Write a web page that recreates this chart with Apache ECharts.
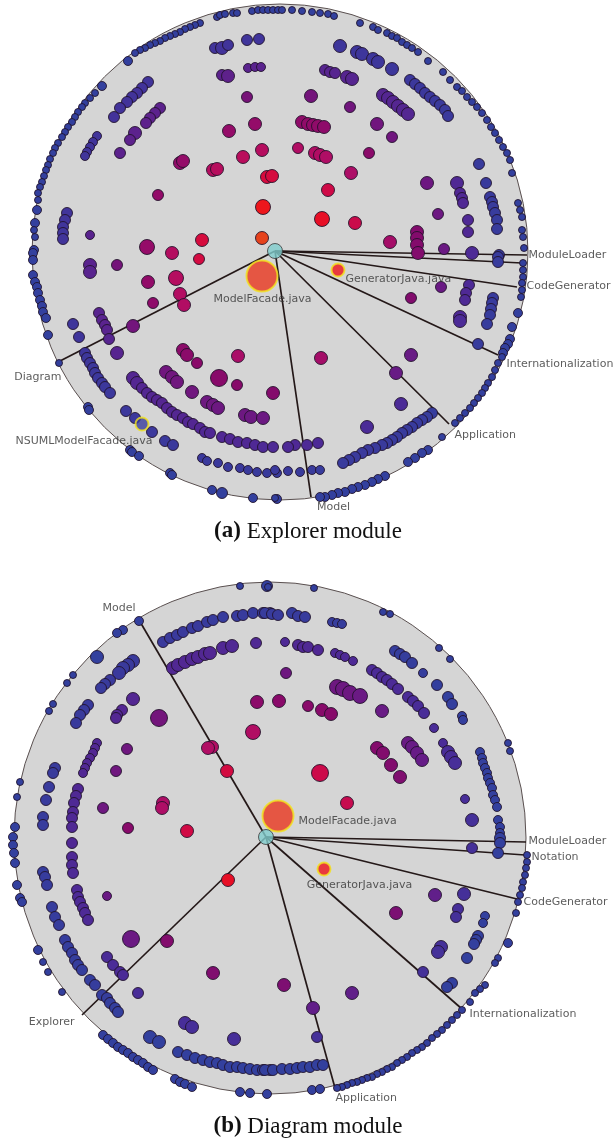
<!DOCTYPE html>
<html>
<head>
<meta charset="utf-8">
<script src="https://cdn.jsdelivr.net/npm/echarts@6/dist/echarts.min.js"></script>
<style>
  html, body { margin: 0; padding: 0; background: #ffffff; }
  #chart { width: 616px; height: 1147px; }
</style>
</head>
<body>
<div id="chart"></div>
<script>
// Radial dependency layouts. Node coordinates are layout units measured from the
// centre of each disk (y grows downward); the third value is the node weight.

// ---------- (a) Explorer module ----------
const explorerRadius = 248;
const explorerHub = [-5, -1];
const explorerNodes = [
  // outer ring, top and upper left
  [-63,-235,1],[-60,-237,1],[-55,-238,1],[-47,-239,1],[-43,-239,1],[-28,-241,1],[-22,-242,1],[-17,-242,1],[-12,-242,1],[-7,-242,1],[-2,-242,1],
  [-80,-229,1],[-85,-227,1],[-90,-225,1],[-95,-223,1],[-100,-220,1],[-105,-218,1],[-110,-216,1],[-115,-214,1],[-120,-211,1],[-125,-209,1],[-130,-207,1],[-135,-204,1],[-140,-202,1],[-145,-199,1],[-152,-191,2],
  [-178,-166,2],[-185,-159,1],[-190,-154,1],[-195,-149,1],[-198,-145,1],[-202,-140,1],[-205,-135,1],[-208,-130,1],[-212,-125,1],[-215,-120,1],[-218,-115,1],[-222,-109,1],[-225,-104,1],[-227,-99,1],[-230,-93,1],[-232,-87,1],[-234,-82,1],[-236,-76,1],[-238,-70,1],[-240,-65,1],[-242,-59,1],[-242,-52,1],[-243,-42,2],[-245,-29,2],[-246,-22,1],[-245,-15,1],[-246,-2,2],[-247,5,1],
  // upper left interior
  [-65,-204,3],[-58,-204,4],[-52,-207,3],[-33,-212,3],[-21,-213,3],
  [-58,-177,3],[-52,-176,4],[-32,-184,2],[-25,-185,2],[-19,-185,2],
  [-33,-155,3],[-25,-128,4],[-51,-121,4],[-18,-102,4],[-37,-95,4],
  [-13,-75,4],[-8,-76,4],[-17,-45,5],[-18,-14,4],
  [-67,-82,4],[-63,-83,4],[-100,-89,4],[-97,-91,4],[-122,-57,3],
  [-78,-12,4],[-108,1,4],[-133,-5,5],[-190,-17,2],
  [-213,-39,3],[-215,-32,3],[-217,-25,3],[-217,-19,3],[-217,-13,3],
  [-183,-116,2],[-187,-110,2],[-190,-105,2],[-193,-100,2],[-195,-96,2],
  [-160,-99,3],[-145,-119,4],[-150,-112,3],
  [-132,-170,3],[-138,-164,3],[-143,-159,3],[-148,-155,3],[-153,-150,3],[-160,-144,3],[-166,-135,3],
  [-120,-144,3],[-125,-139,3],[-130,-134,3],[-134,-129,3],
  // outer ring, top right
  [2,-242,1],[12,-242,1],[22,-241,1],[32,-240,1],[40,-239,1],[48,-238,1],[54,-236,1],[80,-229,1],[93,-225,1],[98,-222,1],
  [107,-219,1],[112,-216,1],[117,-214,1],[122,-210,1],[127,-207,1],[132,-204,1],[138,-200,1],[148,-191,1],[163,-180,1],[170,-172,1],
  [177,-165,1],[182,-161,1],[187,-155,1],[192,-150,1],[197,-145,1],[202,-139,1],[207,-132,1],[211,-125,1],[215,-119,1],[219,-112,1],
  [223,-105,1],[227,-99,1],[230,-92,1],[232,-79,1],[238,-49,1],[240,-42,1],[242,-35,1],[242,-22,1],[243,-15,1],[244,-4,1],
  // upper right interior
  [60,-206,4],[77,-200,4],[82,-198,4],[93,-193,4],[98,-190,4],[112,-183,4],
  [45,-182,3],[50,-180,3],[55,-179,3],[67,-175,4],[72,-173,4],
  [130,-172,3],[135,-168,3],[140,-164,3],[145,-159,3],[150,-155,3],[155,-151,3],[160,-147,3],[165,-142,3],[168,-136,3],
  [103,-157,4],[108,-154,4],[113,-150,4],[118,-146,4],[123,-142,4],[128,-138,4],
  [31,-156,4],[70,-145,3],[97,-128,4],[112,-115,3],
  [22,-130,4],[28,-128,4],[33,-127,4],[38,-126,4],[44,-125,4],
  [18,-104,3],[35,-99,4],[40,-97,4],[46,-95,4],[89,-99,3],
  [71,-79,4],[48,-62,4],[42,-33,5],[75,-29,4],[110,-10,4],
  [137,-20,4],[137,-14,4],[137,-7,4],[138,1,4],
  [147,-69,4],[158,-38,3],[164,-3,3],
  [177,-69,4],[180,-59,3],[182,-54,3],[183,-49,3],[188,-32,3],[188,-20,3],[192,1,4],
  [199,-88,3],[206,-69,3],[210,-55,3],[212,-50,3],[213,-45,3],[215,-39,3],[217,-32,3],[217,-23,3],[219,3,3],
  // lower left
  [-247,1,2],[-247,8,2],[-247,23,2],[-245,30,2],[-243,35,2],[-242,41,2],[-240,48,2],[-238,54,2],[-237,60,2],[-234,66,2],[-232,83,2],[-221,111,1],
  [-192,155,2],[-191,158,2],[-150,198,2],[-148,200,2],[-141,204,2],[-110,221,2],[-108,223,2],[-68,238,2],[-58,241,3],[-27,246,2],[-3,247,2],
  [-190,13,4],[-190,20,4],[-163,13,3],[-132,30,4],[-104,26,5],[-81,7,3],
  [-100,42,4],[-96,53,4],[-127,51,3],[-147,74,4],[-207,72,3],[-201,85,3],
  [-181,61,3],[-178,68,3],[-175,73,3],[-173,78,3],[-171,87,3],[-163,101,4],
  [-195,101,3],[-193,106,3],[-190,111,3],[-187,116,3],[-185,121,3],[-182,126,3],[-178,131,3],[-175,135,3],[-170,141,3],
  [-147,126,4],[-143,131,4],[-138,136,3],[-133,141,3],[-128,145,3],[-123,148,3],[-118,151,3],[-113,156,3],[-108,160,3],[-103,163,3],
  [-97,166,3],[-92,170,3],[-87,172,3],[-80,176,3],[-75,180,3],[-70,181,3],
  [-154,159,3],[-145,166,3],[-128,180,3],[-115,189,3],[-107,193,3],
  [-114,120,4],[-108,125,4],[-103,130,4],[-97,98,4],[-93,103,4],[-83,111,3],[-88,140,4],
  [-73,150,4],[-67,153,4],[-62,156,4],[-61,126,6],[-42,104,4],[-43,133,3],
  [-35,163,4],[-29,165,4],[-17,166,4],[-7,141,4],
  [-58,185,3],[-50,187,3],[-42,190,3],[-33,191,3],[-25,193,3],[-17,195,3],[-7,195,3],
  [-78,206,2],[-73,209,2],[-62,211,2],[-52,215,2],[-40,216,2],[-32,218,2],[-23,220,2],[-13,221,2],[-3,221,2],
  // lower right
  [218,5,3],[218,10,3],[243,11,1],[243,18,1],[243,25,1],[242,31,1],[242,38,1],[241,45,1],
  [161,35,3],[189,33,3],[186,41,3],[185,48,3],[131,46,3],[180,65,4],[180,69,4],
  [213,46,3],[212,51,3],[211,57,3],[210,63,3],[207,72,3],[238,61,2],[232,75,2],
  [230,87,2],[228,92,2],[225,96,2],[223,101,2],[198,92,3],
  [41,106,4],[131,103,4],[116,121,4],[121,152,4],[87,175,4],[162,185,1],
  [222,105,1],[218,111,1],[215,118,1],[212,125,1],[208,131,1],[205,136,1],[202,141,1],[198,146,1],[194,151,1],[190,156,1],[185,161,1],[180,166,1],[175,171,1],
  [152,161,3],[147,165,3],[142,168,3],[137,171,3],[132,175,3],[127,178,3],[122,181,3],[117,185,3],[112,188,3],[107,191,3],
  [102,193,3],[95,196,3],[88,198,3],[82,201,3],[75,205,3],[69,208,3],[63,211,3],
  [148,198,2],[142,201,2],[135,206,2],[128,210,2],
  [105,224,2],[98,227,2],[92,230,2],[85,233,2],[78,235,2],[72,237,2],[65,240,2],[58,241,2],[52,243,2],[45,245,2],[40,245,2],
  [38,191,3],[27,193,3],[15,193,3],[8,195,3],
  [-5,218,2],[8,219,2],[20,220,2],[32,218,2],[40,218,2],[-5,246,1]
];
const explorerSectors = ['ModuleLoader', '', 'CodeGenerator', 'Internationalization', 'Application', 'Model', 'Diagram'];
const explorerSectorEnds = [[247,3],[242,11],[237,35],[218,103],[169,172],[31,245],[-220,109]];
const explorerMarked = ['ModelFacade.java', 'GeneratorJava.java', 'NSUMLModelFacade.java'];
const explorerMarkedNodes = [[-18,24,13],[58,18,4],[-138,172,4]];

// ---------- (b) Diagram module ----------
const diagramRadius = 256;
const diagramHub = [-4, -1];
const diagramNodes = [
  // upper left
  [-30,-252,1],[-3,-252,3],[-131,-217,2],[-147,-208,2],[-153,-205,2],[-173,-181,4],
  [-197,-163,1],[-203,-155,1],[-217,-134,1],[-221,-127,1],[-250,-56,1],[-253,-41,1],[-255,-11,2],
  [-107,-196,3],[-100,-200,3],[-93,-203,3],[-87,-206,3],[-78,-210,3],[-72,-212,3],[-63,-216,3],[-57,-218,3],
  [-47,-221,3],[-33,-222,3],[-27,-223,3],[-17,-225,3],[-7,-225,3],[0,-225,3],[-14,-195,3],
  [-97,-170,4],[-92,-173,4],[-85,-176,4],[-78,-179,4],[-72,-181,4],[-65,-184,4],[-60,-185,4],[-47,-190,4],[-38,-192,4],
  [-137,-177,4],[-142,-173,4],[-147,-170,4],[-151,-165,4],[-160,-158,3],[-165,-154,3],[-169,-150,3],
  [-182,-133,3],[-186,-128,3],[-190,-123,3],[-194,-115,3],[-137,-139,4],[-148,-128,3],[-153,-123,3],[-154,-120,3],
  [-111,-120,6],
  [-173,-95,2],[-175,-90,2],[-177,-85,2],[-180,-80,2],[-183,-75,2],[-185,-70,2],[-187,-65,2],
  [-215,-70,3],[-217,-65,3],[-221,-51,3],[-224,-38,3],[-227,-21,3],[-227,-13,3],
  [-192,-49,3],[-194,-42,3],[-196,-35,3],[-197,-26,3],[-198,-20,3],[-198,-11,3],
  [-143,-89,3],[-154,-67,3],[-167,-30,3],[-107,-35,4],[-108,-30,4],[-142,-10,3],[-83,-7,4],
  [-13,-136,4],[-17,-106,5],[-58,-91,4],[-62,-90,4],[-43,-67,4],
  // upper right
  [-2,-251,1],[44,-250,1],[113,-226,1],[120,-224,1],[169,-190,1],[180,-179,1],[238,-95,1],[240,-87,1],
  [-5,-225,3],[2,-224,3],[8,-223,3],[22,-225,3],[28,-222,3],[35,-221,3],
  [62,-216,2],[67,-215,2],[72,-214,2],[15,-196,2],[28,-193,3],[33,-191,3],[38,-191,3],[48,-188,3],
  [65,-185,2],[70,-183,2],[75,-181,2],[83,-177,2],
  [125,-187,3],[130,-184,3],[135,-181,3],[142,-175,3],[153,-165,2],[167,-153,3],
  [102,-168,3],[107,-165,3],[112,-161,3],[117,-158,3],[122,-154,3],[128,-149,3],
  [178,-141,3],[182,-134,3],[192,-122,2],[193,-118,2],[164,-110,2],
  [138,-141,3],[143,-137,3],[148,-132,3],[154,-125,3],
  [16,-165,3],[67,-151,5],[73,-149,5],[80,-145,5],[90,-142,5],[112,-127,4],
  [9,-137,4],[38,-132,3],[52,-128,4],[61,-124,4],
  [107,-90,4],[113,-85,4],[121,-73,4],[130,-61,4],
  [138,-95,4],[142,-91,4],[147,-85,4],[152,-78,4],[173,-95,2],[178,-86,4],[181,-81,4],[185,-75,4],
  [210,-86,2],[212,-80,2],[213,-75,2],[215,-70,2],[217,-65,2],[218,-60,2],[220,-55,2],[222,-50,2],[223,-43,2],[225,-38,2],[227,-31,2],
  [195,-39,2],[202,-18,4],[228,-18,2],[230,-11,2],[230,-5,2],
  [50,-65,6],[77,-35,4],
  // lower left
  [-42,42,4],
  [-257,-1,2],[-257,7,2],[-256,15,2],[-255,25,2],[-253,47,2],[-250,60,2],[-248,64,2],
  [-232,112,2],[-227,124,1],[-222,134,1],[-208,154,1],
  [-167,197,2],[-162,201,2],[-157,205,2],[-152,209,2],[-147,212,2],[-142,215,2],[-137,219,2],[-132,222,2],[-127,225,2],[-122,229,2],[-117,232,2],
  [-95,241,2],[-90,244,2],[-85,246,2],[-78,249,2],[-30,254,2],[-20,255,2],[-3,256,2],
  [-227,34,3],[-225,39,3],[-223,47,3],[-198,5,3],[-198,19,3],[-198,27,3],[-197,35,3],
  [-193,52,3],[-192,59,3],[-190,64,3],[-187,70,3],[-185,75,3],[-182,82,3],
  [-218,69,3],[-215,79,3],[-211,87,3],
  [-205,102,3],[-202,109,3],[-198,115,3],[-195,122,3],[-192,127,3],[-188,132,3],[-180,142,3],[-175,147,3],
  [-168,157,3],[-163,160,3],[-160,165,3],[-155,170,3],[-152,174,3],
  [-163,119,3],[-157,127,3],[-150,134,3],[-147,137,3],
  [-163,58,2],[-139,101,6],[-103,103,4],[-132,155,3],[-57,135,4],
  [-85,185,4],[-78,189,4],[-120,199,4],[-111,204,4],[-36,201,4],
  [-92,214,3],[-83,217,3],[-75,220,3],[-67,222,3],[-60,224,3],[-53,225,3],[-47,227,3],[-40,229,3],[-33,229,3],
  [-27,230,3],[-20,231,3],[-13,232,3],[-7,232,3],[0,232,3],
  // lower right
  [230,0,3],[230,5,3],[228,15,3],[202,10,3],
  [257,17,1],[257,24,1],[256,30,1],[255,37,1],[253,44,1],[252,50,1],[250,57,1],[248,64,1],[246,75,1],
  [238,105,2],[228,120,1],[225,125,1],[215,147,1],[210,151,1],[205,155,1],[200,164,1],
  [192,172,1],[187,177,1],[182,182,1],[177,187,1],[172,192,1],[167,196,1],[162,200,1],[157,205,1],[152,209,1],
  [147,212,1],[142,215,1],[137,219,1],[132,222,1],[127,225,1],[122,229,1],[117,231,1],[112,234,1],[107,236,1],
  [102,239,1],[97,240,1],[92,242,1],[87,244,1],[82,245,1],[77,247,1],[72,249,1],[67,250,1],
  [42,252,2],[50,251,2],
  [194,56,4],[165,57,4],[126,75,4],[188,71,3],[186,79,3],[215,78,2],[213,85,2],
  [208,98,3],[206,102,3],[204,106,3],[171,109,4],[168,114,4],[197,120,3],[153,134,3],
  [182,145,3],[177,149,3],[14,147,4],[82,155,4],[43,170,4],[47,199,3],
  [-5,232,3],[3,232,3],[12,231,3],[20,231,3],[27,230,3],[33,229,3],[40,229,3],[47,227,3],[53,227,3]
];
const diagramSectors = ['Model', 'ModuleLoader', 'Notation', 'CodeGenerator', 'Internationalization', 'Application', 'Explorer'];
const diagramSectorEnds = [[-131,-218],[256,4],[255,17],[247,61],[192,171],[65,250],[-188,177]];
const diagramMarked = ['ModelFacade.java', 'GeneratorJava.java'];
const diagramMarkedNodes = [[8,-22,13],[54,31,4]];

// ---------- styling ----------
const markedFill = {
  'ModelFacade.java': '#e8361e',
  'GeneratorJava.java': '#ee1118',
  'NSUMLModelFacade.java': '#3a3d9e'
};
// label offsets (pixels) from the anchoring point
const explorerLabelPlacement = {
  'ModuleLoader': [2, 1, 'left'],
  'CodeGenerator': [10, 0, 'left'],
  'Internationalization': [9, 10, 'left'],
  'Application': [6, 12, 'left'],
  'Model': [23, 11, 'center'],
  'Diagram': [2, 17, 'right'],
  'ModelFacade.java': [1, 24, 'center'],
  'GeneratorJava.java': [8, 10, 'left'],
  'NSUMLModelFacade.java': [11, 18, 'right']
};
const diagramLabelPlacement = {
  'Model': [-3, -11, 'right'],
  'ModuleLoader': [3, 0, 'left'],
  'Notation': [7, 3, 'left'],
  'CodeGenerator': [7, 4, 'left'],
  'Internationalization': [8, 6, 'left'],
  'Application': [1, 11, 'left'],
  'Explorer': [-7, 8, 'right'],
  'ModelFacade.java': [21, 6, 'left'],
  'GeneratorJava.java': [36, 17, 'center']
};

const nodeSize = v => 5 + 2 * v[2];
const labelFont = { fontFamily: 'DejaVu Sans', fontSize: 11, color: '#333333' };

function panelSeries(idx, radius, hub, nodes, sectors, ends, marked, markedNodes, placement) {
  const axes = { xAxisIndex: idx, yAxisIndex: idx };
  const labelItem = (name, pos) => {
    const p = placement[name];
    return {
      name: name,
      value: pos,
      label: {
        show: true,
        position: [p[0], p[1]],
        align: p[2],
        verticalAlign: 'middle',
        formatter: name
      }
    };
  };
  const labelData = [];
  sectors.forEach((s, i) => { if (s) labelData.push(labelItem(s, ends[i])); });
  marked.forEach((m, i) => labelData.push(labelItem(m, markedNodes[i].slice(0, 2))));

  return [
    {
      type: 'custom', ...axes, silent: true, z: 1,
      data: [[0, 0, radius]],
      renderItem: function (params, api) {
        const c = api.coord([api.value(0), api.value(1)]);
        const r = api.size([api.value(2), 0])[0];
        return {
          type: 'circle',
          shape: { cx: c[0], cy: c[1], r: r },
          style: { fill: '#d5d5d5', stroke: '#5a5050', lineWidth: 1 }
        };
      }
    },
    {
      type: 'lines', coordinateSystem: 'cartesian2d', ...axes, silent: true, z: 2,
      lineStyle: { color: '#241818', width: 1.7, opacity: 1 },
      data: ends.map(e => ({ coords: [hub, e] }))
    },
    {
      id: 'nodes' + idx,
      type: 'scatter', ...axes, silent: true, z: 3, clip: false,
      symbolSize: nodeSize,
      itemStyle: { borderColor: 'rgba(30,16,40,0.85)', borderWidth: 1, opacity: 1 },
      data: nodes.map(n => [n[0], n[1], n[2], Math.hypot(n[0] - hub[0], n[1] - hub[1])])
    },
    {
      type: 'scatter', ...axes, silent: true, z: 4, clip: false,
      symbolSize: nodeSize,
      data: markedNodes.map((n, i) => ({
        value: n,
        itemStyle: { color: markedFill[marked[i]], borderColor: '#f2e41c', borderWidth: 2 }
      }))
    },
    {
      type: 'scatter', ...axes, silent: true, z: 5, clip: false,
      symbolSize: 15,
      itemStyle: { color: '#7fcdcd', borderColor: '#3a3a3a', borderWidth: 1 },
      data: [hub]
    },
    {
      type: 'scatter', ...axes, silent: true, z: 6, clip: false,
      symbolSize: 1,
      itemStyle: { color: 'rgba(0,0,0,0)' },
      label: labelFont,
      data: labelData
    }
  ];
}

const seriesA = panelSeries(0, explorerRadius, explorerHub, explorerNodes, explorerSectors,
  explorerSectorEnds, explorerMarked, explorerMarkedNodes, explorerLabelPlacement);
const seriesB = panelSeries(1, diagramRadius, diagramHub, diagramNodes, diagramSectors,
  diagramSectorEnds, diagramMarked, diagramMarkedNodes, diagramLabelPlacement);

const captionStyle = {
  fontFamily: 'Liberation Serif', fontSize: 23, fontWeight: 'normal', color: '#111111',
  rich: { b: { fontFamily: 'Liberation Serif', fontSize: 23, fontWeight: 'bold', color: '#111111' } }
};

const chart = echarts.init(document.getElementById('chart'), null, { renderer: 'canvas' });
chart.setOption({
  animation: false,
  backgroundColor: '#ffffff',
  title: [
    { text: '{b|(a)} Explorer module', left: 'center', top: 520, padding: 0, textStyle: captionStyle },
    { text: '{b|(b)} Diagram module', left: 'center', top: 1115, padding: 0, textStyle: captionStyle }
  ],
  grid: [
    { left: 280 - explorerRadius, top: 252 - explorerRadius, width: 2 * explorerRadius, height: 2 * explorerRadius },
    { left: 270 - diagramRadius, top: 838 - diagramRadius, width: 2 * diagramRadius, height: 2 * diagramRadius }
  ],
  xAxis: [
    { type: 'value', gridIndex: 0, min: -explorerRadius, max: explorerRadius, show: false },
    { type: 'value', gridIndex: 1, min: -diagramRadius, max: diagramRadius, show: false }
  ],
  yAxis: [
    { type: 'value', gridIndex: 0, min: -explorerRadius, max: explorerRadius, inverse: true, show: false },
    { type: 'value', gridIndex: 1, min: -diagramRadius, max: diagramRadius, inverse: true, show: false }
  ],
  visualMap: [{
    type: 'continuous',
    show: false,
    seriesIndex: [2, 8],
    dimension: 3,
    min: 20,
    max: 230,
    inRange: {
      color: ['#e6421c', '#ee101c', '#d00a46', '#ac0e68', '#860a6a', '#6a1a84', '#4a2c98', '#33409e']
    }
  }],
  series: seriesA.concat(seriesB)
});
</script>
</body>
</html>
